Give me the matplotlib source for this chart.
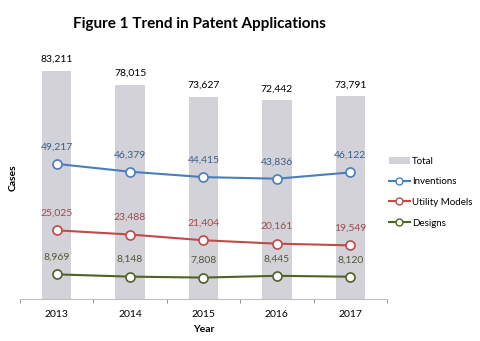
import numpy as np
import matplotlib.pyplot as plt
from matplotlib.patches import Patch
from matplotlib.lines import Line2D

plt.rcParams['font.family'] = ['Lato', 'DejaVu Sans']
plt.rcParams['hatch.color'] = '#c6c5cc'

years = ['2013', '2014', '2015', '2016', '2017']
total = [83211, 78015, 73627, 72442, 73791]
inventions = [49217, 46379, 44415, 43836, 46122]
utility = [25025, 23488, 21404, 20161, 19549]
designs = [8969, 8148, 7808, 8445, 8120]

fig = plt.figure(figsize=(4.81, 3.41), dpi=100)
ax = fig.add_axes([20 / 481, 42 / 341, 367 / 481, 247 / 341])

x = np.arange(len(years))
ax.bar(x, total, width=0.4, color='#d3d2d8', edgecolor='none', hatch='......', zorder=1)

series = [
    (inventions, '#4a7ebb', '#3b5f8a', 'Inventions'),
    (utility, '#be4b48', '#9c4b4b', 'Utility Models'),
    (designs, '#4f6228', '#4f5a33', 'Designs'),
]
for vals, lc, tc, name in series:
    ax.plot(x, vals, color=lc, lw=1.5, marker='o', ms=6.5, mfc='white',
            mec=lc, mew=1.2, zorder=3)
    for xi, v in zip(x, vals):
        ax.annotate(f'{v:,}', (xi, v), xytext=(0, 9), textcoords='offset points',
                    ha='center', va='bottom', fontsize=7.5, color=tc)

for xi, v in zip(x, total):
    ax.annotate(f'{v:,}', (xi, v), xytext=(0, 5), textcoords='offset points',
                ha='center', va='bottom', fontsize=7.5, color='black')

ax.set_xlim(-0.5, 4.5)
ax.set_ylim(0, 90000)
ax.set_yticks([])
for s in ['top', 'right', 'left']:
    ax.spines[s].set_visible(False)
ax.spines['bottom'].set_color('#bfbfbf')
ax.set_xticks(x)
ax.set_xticklabels(years, fontsize=7.5)
ax.tick_params(axis='x', length=0, pad=8)
ax.set_xticks(np.arange(-0.5, 5, 1), minor=True)
ax.tick_params(axis='x', which='minor', length=3, color='#808080')
ax.set_xlabel('Year', fontsize=7.5, fontweight='bold', labelpad=4)

fig.text(13 / 481, 1 - 178 / 341, 'Cases', rotation=90, ha='center', va='center',
         fontsize=7.5, fontweight='bold')
fig.text(199 / 481, 1 - 24 / 341, 'Figure 1 Trend in Patent Applications',
         ha='center', va='center', fontsize=11, fontweight='bold')

handles = [Patch(facecolor='#d3d2d8', edgecolor='none', hatch='......')]
for vals, lc, tc, name in series:
    handles.append(Line2D([], [], color=lc, lw=1.5, marker='o', ms=5, mfc='white',
                          mec=lc, mew=1))
labels = ['Total'] + [s[3] for s in series]
fig.legend(handles, labels, loc='center left', bbox_to_anchor=(380 / 481, 1 - 192 / 341),
           frameon=False, fontsize=7, handlelength=2.2, labelspacing=1.2,
           handletextpad=0.2)

fig.savefig('out.png', dpi=100)
